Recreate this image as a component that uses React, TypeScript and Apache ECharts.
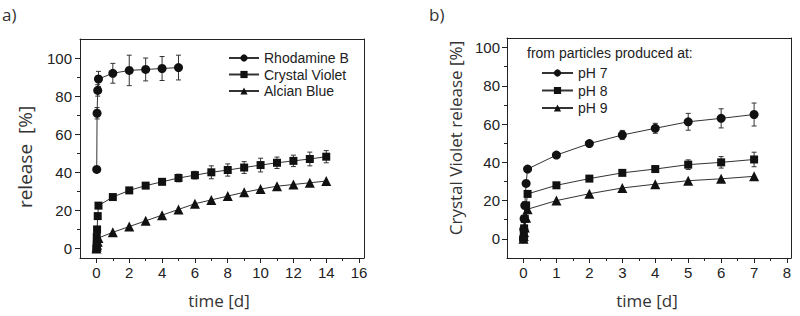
import React, { useEffect, useRef } from "react";
import * as echarts from "echarts";

// ---- panel a) ----
const rbT = [0.02, 0.04, 0.08, 0.125, 1, 2, 3, 4, 5];
const rbY = [41.5, 71, 83, 89, 92, 93.5, 94, 94.5, 95];
const rbErr = [0, 3, 3, 4, 5.2, 8, 6, 6.3, 6.5];

const cvT = [0, 0.01, 0.02, 0.04, 0.08, 0.125, 1, 2, 3, 4, 5, 6, 7, 8, 9, 10, 11, 12, 13, 14];
const cvY = [0, 2, 6, 10, 17, 22.5, 27, 30.5, 33, 35, 37, 38.5, 40, 41.2, 42.5, 43.8, 45, 46, 47, 48.2];
const cvErr = [0, 0, 0, 0, 0, 1, 1, 1, 1, 1, 2, 2, 3.4, 3.2, 3.1, 3.6, 3, 3, 3.6, 3.2];

const abT = [0, 0.02, 0.04, 0.08, 0.125, 1, 2, 3, 4, 5, 6, 7, 8, 9, 10, 11, 12, 13, 14];
const abY = [0, 1, 2, 3.5, 5.5, 8.5, 11.5, 14.5, 17.5, 20.5, 23.5, 25.5, 27.5, 29.5, 31.2, 32.7, 33.6, 34.5, 35.4];

const xTicksA = [0, 2, 4, 6, 8, 10, 12, 14, 16];
const xMinorA = [1, 3, 5, 7, 9, 11, 13, 15];
const yTicksA = [0, 20, 40, 60, 80, 100];
const yMinorA = [10, 30, 50, 70, 90];

// ---- panel b) ----
const phT = [0, 0.01, 0.02, 0.04, 0.08, 0.125, 1, 2, 3, 4, 5, 6, 7];
const ph7Y = [0, 5, 10.5, 17.5, 29, 36.5, 43.8, 49.8, 54.3, 57.8, 61.2, 63, 65];
const ph7Err = [0, 0, 0, 0, 0, 0, 1, 1.2, 2.4, 2.6, 4.4, 5, 6];
const ph8Y = [0, 2.5, 5.5, 10.5, 17.5, 23.5, 28, 31.5, 34.5, 36.5, 38.8, 40, 41.5];
const ph8Err = [0, 0, 0, 0, 0, 0, 0.8, 1, 1, 1.5, 2.5, 3, 3.8];
const ph9Y = [0, 1.5, 3.5, 6, 11, 15.5, 20, 23.6, 26.6, 28.6, 30.4, 31.4, 32.7];

const xTicksB = [0, 1, 2, 3, 4, 5, 6, 7, 8];
const xMinorB = [0.5, 1.5, 2.5, 3.5, 4.5, 5.5, 6.5, 7.5];
const yTicksB = [0, 20, 40, 60, 80, 100];
const yMinorB = [10, 30, 50, 70, 90];

const INK = "#222";
const TICK_FONT = "'Liberation Sans', Arial, sans-serif";
const TITLE_FONT = "'Open Sans', 'Noto Sans', sans-serif";

function majorAxis(grid: number, pos: string, min: number, max: number, ticks: number[], margin: number) {
  return {
    gridIndex: grid,
    type: "value",
    position: pos,
    min,
    max,
    splitLine: { show: false },
    axisLine: { show: true, onZero: false, lineStyle: { color: INK, width: 1 } },
    axisTick: { show: true, inside: false, length: 5, customValues: ticks, lineStyle: { color: INK, width: 1 } },
    axisLabel: { show: true, customValues: ticks, margin, fontSize: 15, color: INK, fontFamily: TICK_FONT },
  };
}
function minorAxis(grid: number, pos: string, min: number, max: number, ticks: number[]) {
  return {
    gridIndex: grid,
    type: "value",
    position: pos,
    min,
    max,
    splitLine: { show: false },
    axisLine: { show: false, onZero: false },
    axisTick: { show: true, inside: false, length: 3, customValues: ticks, lineStyle: { color: INK, width: 1 } },
    axisLabel: { show: false },
  };
}
function frameAxis(grid: number, pos: string, min: number, max: number) {
  return {
    gridIndex: grid,
    type: "value",
    position: pos,
    min,
    max,
    splitLine: { show: false },
    axisLine: { show: true, onZero: false, lineStyle: { color: INK, width: 1 } },
    axisTick: { show: false },
    axisLabel: { show: false },
  };
}

function lineSeries(name: string, xs: number[], ys: number[], symbol: string, xi: number, yi: number) {
  return {
    name,
    type: "line",
    xAxisIndex: xi,
    yAxisIndex: yi,
    data: xs.map((t, i) => [t, ys[i]]),
    symbol,
    symbolSize: symbol === "triangle" ? 10 : symbol === "rect" ? 8 : 9,
    itemStyle: { color: "#111" },
    lineStyle: { color: "#333", width: 1 },
    z: 3,
  };
}

function errSeries(xs: number[], ys: number[], es: number[], xi: number, yi: number) {
  return {
    type: "custom",
    xAxisIndex: xi,
    yAxisIndex: yi,
    z: 2,
    encode: { x: 0, y: 1 },
    data: xs.map((t, i) => [t, ys[i], es[i]]),
    renderItem: (params: any, api: any) => {
      const x = api.value(0);
      const y = api.value(1);
      const e = api.value(2);
      if (!e) return { type: "group", children: [] };
      const top = api.coord([x, y + e]);
      const bot = api.coord([x, y - e]);
      const w = 2.5;
      const st = { stroke: "#333", lineWidth: 1 };
      return {
        type: "group",
        children: [
          { type: "line", shape: { x1: top[0], y1: top[1], x2: bot[0], y2: bot[1] }, style: st },
          { type: "line", shape: { x1: top[0] - w, y1: top[1], x2: top[0] + w, y2: top[1] }, style: st },
          { type: "line", shape: { x1: bot[0] - w, y1: bot[1], x2: bot[0] + w, y2: bot[1] }, style: st },
        ],
      };
    },
  };
}

export default function App() {
  const ref = useRef<HTMLDivElement>(null);
  useEffect(() => {
    if (!ref.current) return;
    const chart = echarts.init(ref.current, null, { renderer: "svg" });
    const legendText = { fontSize: 14, color: INK, fontFamily: TICK_FONT, lineHeight: 16 };
    chart.setOption({
      animation: false,
      backgroundColor: "#fff",
      grid: [
        { left: 80, top: 39, width: 284, height: 219 },
        { left: 507, top: 38, width: 284, height: 220 },
      ],
      xAxis: [
        majorAxis(0, "bottom", -1, 16.3, xTicksA, 7),
        minorAxis(0, "bottom", -1, 16.3, xMinorA),
        majorAxis(1, "bottom", -0.5, 8.12, xTicksB, 7),
        minorAxis(1, "bottom", -0.5, 8.12, xMinorB),
        frameAxis(0, "top", -1, 16.3),
        frameAxis(1, "top", -0.5, 8.12),
      ],
      yAxis: [
        majorAxis(0, "left", -5, 110, yTicksA, 8),
        minorAxis(0, "left", -5, 110, yMinorA),
        majorAxis(1, "left", -10, 105, yTicksB, 7),
        minorAxis(1, "left", -10, 105, yMinorB),
        frameAxis(0, "right", -5, 110),
        frameAxis(1, "right", -10, 105),
      ],
      legend: [
        {
          data: ["Rhodamine B", "Crystal Violet", "Alcian Blue"],
          orient: "vertical",
          left: 223,
          top: 45,
          itemWidth: 30,
          itemHeight: 9,
          itemGap: 0.5,
          textStyle: legendText,
          selectedMode: false,
        },
        {
          data: ["pH 7", "pH 8", "pH 9"],
          orient: "vertical",
          left: 536,
          top: 60,
          itemWidth: 31,
          itemHeight: 9,
          itemGap: 1.5,
          textStyle: legendText,
          selectedMode: false,
        },
      ],
      graphic: [
        { type: "text", left: 2, top: 6, style: { text: "a)", fontSize: 17, fill: "#333", fontFamily: TITLE_FONT } },
        { type: "text", left: 429, top: 6, style: { text: "b)", fontSize: 17, fill: "#333", fontFamily: TITLE_FONT } },
        {
          type: "text",
          x: 25,
          y: 157,
          rotation: Math.PI / 2,
          style: { text: "release  [%]", fontSize: 19, fill: "#333", fontFamily: TITLE_FONT, align: "center", verticalAlign: "middle" },
        },
        {
          type: "text",
          x: 455,
          y: 138,
          rotation: Math.PI / 2,
          style: { text: "Crystal Violet release [%]", fontSize: 17, fill: "#333", fontFamily: TITLE_FONT, align: "center", verticalAlign: "middle" },
        },
        {
          type: "text",
          x: 219,
          y: 300,
          style: { text: "time [d]", fontSize: 17, fill: "#333", fontFamily: TITLE_FONT, align: "center", verticalAlign: "middle" },
        },
        {
          type: "text",
          x: 647,
          y: 300,
          style: { text: "time [d]", fontSize: 17, fill: "#333", fontFamily: TITLE_FONT, align: "center", verticalAlign: "middle" },
        },
        {
          type: "text",
          x: 527,
          y: 53,
          style: { text: "from particles produced at:", fontSize: 14, fill: INK, fontFamily: TICK_FONT, align: "left", verticalAlign: "middle" },
        },
      ],
      series: [
        errSeries(rbT, rbY, rbErr, 0, 0),
        errSeries(cvT, cvY, cvErr, 0, 0),
        lineSeries("Rhodamine B", rbT, rbY, "circle", 0, 0),
        lineSeries("Crystal Violet", cvT, cvY, "rect", 0, 0),
        lineSeries("Alcian Blue", abT, abY, "triangle", 0, 0),
        errSeries(phT, ph7Y, ph7Err, 2, 2),
        errSeries(phT, ph8Y, ph8Err, 2, 2),
        lineSeries("pH 7", phT, ph7Y, "circle", 2, 2),
        lineSeries("pH 8", phT, ph8Y, "rect", 2, 2),
        lineSeries("pH 9", phT, ph9Y, "triangle", 2, 2),
      ],
    });
    return () => chart.dispose();
  }, []);
  return <div ref={ref} style={{ position: "fixed", left: 0, top: 0, width: 800, height: 316 }} />;
}
